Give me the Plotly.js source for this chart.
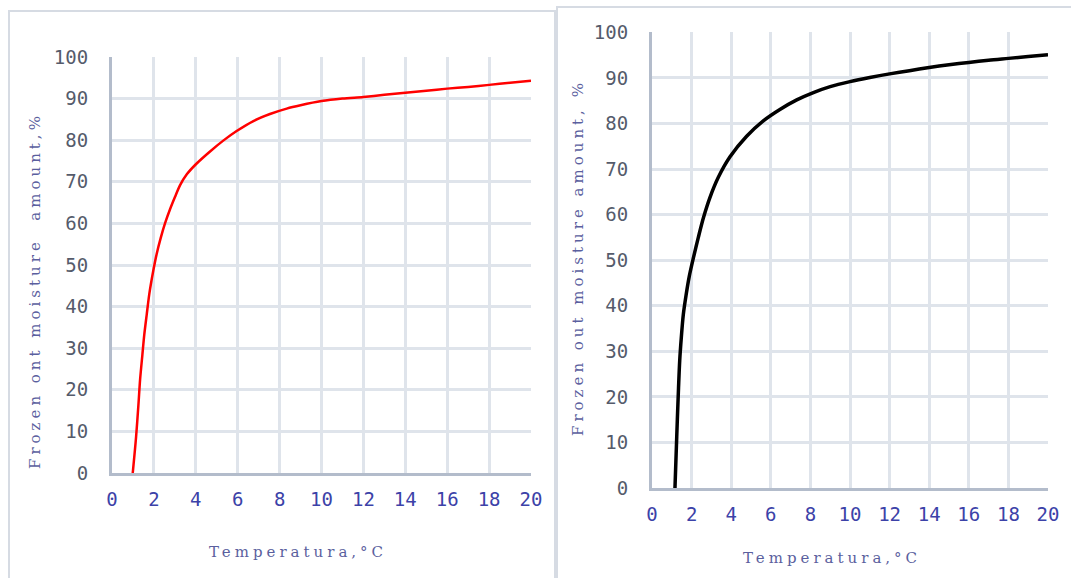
<!DOCTYPE html>
<html>
<head>
<meta charset="utf-8">
<script src="https://cdn.plot.ly/plotly-3.0.1.min.js"></script>
<style>
  html, body { margin: 0; padding: 0; background: #ffffff; }
  #chart { width: 1071px; height: 578px; }
  .annotation-text { letter-spacing: 4px; }
</style>
</head>
<body>
<div id="chart"></div>
<script>
// Left panel (red curve)
const tempLeft  = [0.99, 1.15, 1.26, 1.34, 1.45, 1.54, 1.66, 1.78, 1.97, 2.13, 2.32, 2.53, 2.77, 3.01, 3.25, 3.57, 4.04, 4.68, 5.31, 5.95, 6.75, 7.54, 8.34, 9.0, 10, 11, 12, 13, 14, 15, 16, 17, 18, 19, 20];
const moistLeft = [0, 8.7, 16.3, 22.4, 28.4, 33.2, 38.2, 43.0, 48.6, 52.6, 56.4, 60.0, 63.4, 66.4, 69.2, 71.8, 74.4, 77.3, 79.9, 82.2, 84.6, 86.3, 87.6, 88.4, 89.4, 90.0, 90.4, 90.9, 91.4, 91.9, 92.4, 92.8, 93.3, 93.8, 94.3];

// Right panel (black curve)
const tempRight  = [1.16, 1.22, 1.28, 1.34, 1.40, 1.48, 1.58, 1.72, 1.88, 2.09, 2.34, 2.59, 2.93, 3.35, 3.94, 4.78, 5.62, 6.46, 7.31, 8.15, 9.0, 10, 11, 12, 13, 14, 15, 16, 17, 18, 19, 20];
const moistRight = [0, 7.6, 15.0, 22.0, 28.0, 33.0, 38.0, 42.3, 46.4, 50.5, 55.0, 59.2, 63.8, 68.2, 72.7, 77.2, 80.6, 83.1, 85.2, 86.8, 88.1, 89.2, 90.1, 90.9, 91.6, 92.3, 92.9, 93.4, 93.9, 94.3, 94.7, 95.1];

const xTickVals = [0, 2, 4, 6, 8, 10, 12, 14, 16, 18, 20];
const yTickVals = [0, 10, 20, 30, 40, 50, 60, 70, 80, 90, 100];

const xTitleText = "Temperatura,°C";
const yTitleLeft = "Frozen ont moisture  amount,%";
const yTitleRight = "Frozen out moisture amount, %";

const W = 1071, H = 578;
const px = v => v / W;
const py = v => 1 - v / H;

const gridColor = "#dfe4eb";
const axisColor = "#b3bccb";
const tickFontX = {family: "DejaVu Sans Mono, Liberation Mono, monospace", size: 19, color: "#3c42a8"};
const tickFontY = {family: "DejaVu Sans Mono, Liberation Mono, monospace", size: 19, color: "#555b6b"};
const titleFont = {family: "DejaVu Serif, Liberation Serif, serif", size: 15, color: "#5b5f9e"};

function xAxis(domain, anchor) {
  return {
    domain: domain, anchor: anchor, range: [0, 20], tickvals: xTickVals,
    showgrid: true, gridcolor: gridColor, gridwidth: 3,
    showline: true, linecolor: axisColor, linewidth: 3,
    zeroline: false, ticks: "", ticklabelstandoff: 7,
    tickfont: tickFontX, fixedrange: true
  };
}
function yAxis(domain, anchor) {
  return {
    domain: domain, anchor: anchor, range: [0, 100], tickvals: yTickVals,
    showgrid: true, gridcolor: gridColor, gridwidth: 3,
    showline: true, linecolor: axisColor, linewidth: 3,
    zeroline: false, ticks: "", ticklabelstandoff: 17,
    tickfont: tickFontY, fixedrange: true
  };
}

const traces = [
  {x: tempLeft, y: moistLeft, xaxis: "x", yaxis: "y", mode: "lines",
   line: {color: "#ff0000", width: 2.5, shape: "spline", smoothing: 0.8}, hoverinfo: "skip"},
  {x: tempRight, y: moistRight, xaxis: "x2", yaxis: "y2", mode: "lines",
   line: {color: "#000000", width: 3.5, shape: "spline", smoothing: 0.8}, hoverinfo: "skip"}
];

const layout = {
  width: W, height: H,
  margin: {l: 0, r: 0, t: 0, b: 0},
  paper_bgcolor: "#ffffff", plot_bgcolor: "#ffffff",
  showlegend: false,
  xaxis: xAxis([px(112), px(531)], "y"),
  yaxis: yAxis([py(473), py(57)], "x"),
  xaxis2: xAxis([px(652), px(1048)], "y2"),
  yaxis2: yAxis([py(488), py(32.4)], "x2"),
  shapes: [
    {type: "rect", xref: "paper", yref: "paper", x0: px(9), x1: px(555), y0: py(600), y1: py(11),
     line: {color: "#d6dbe3", width: 2}, fillcolor: "rgba(0,0,0,0)", layer: "below"},
    {type: "rect", xref: "paper", yref: "paper", x0: px(557), x1: px(1090), y0: py(600), y1: py(7),
     line: {color: "#d6dbe3", width: 2}, fillcolor: "rgba(0,0,0,0)", layer: "below"}
  ],
  annotations: [
    {text: xTitleText, xref: "paper", yref: "paper", x: px(298), y: py(552), showarrow: false,
     font: titleFont, xanchor: "center", yanchor: "middle"},
    {text: xTitleText, xref: "paper", yref: "paper", x: px(832), y: py(558), showarrow: false,
     font: titleFont, xanchor: "center", yanchor: "middle"},
    {text: yTitleLeft, xref: "paper", yref: "paper", x: px(35), y: py(291), showarrow: false,
     font: titleFont, textangle: -90, xanchor: "center", yanchor: "middle"},
    {text: yTitleRight, xref: "paper", yref: "paper", x: px(578), y: py(258), showarrow: false,
     font: titleFont, textangle: -90, xanchor: "center", yanchor: "middle"}
  ]
};

Plotly.newPlot("chart", traces, layout, {staticPlot: true, displayModeBar: false});
</script>
</body>
</html>
